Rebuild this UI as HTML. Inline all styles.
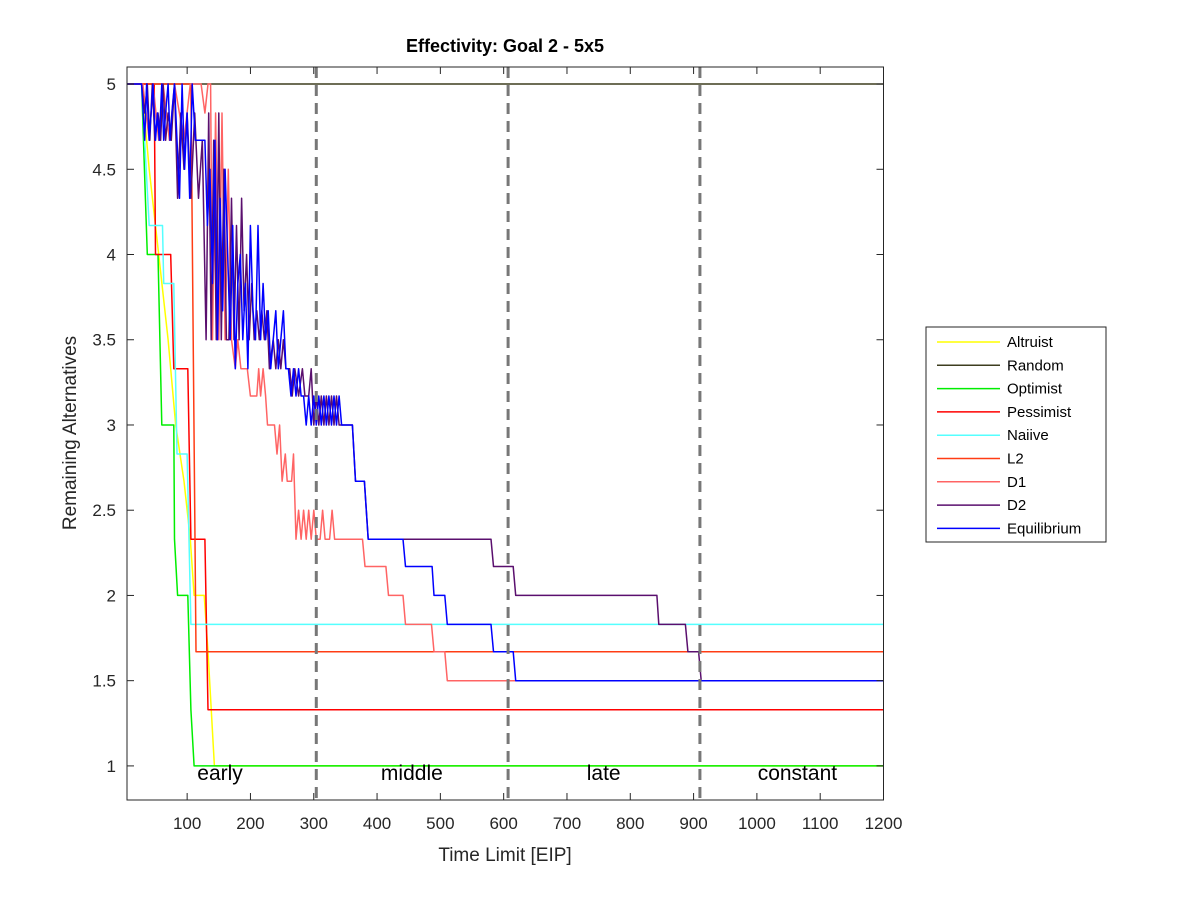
<!DOCTYPE html>
<html><head><meta charset="utf-8"><style>
body{margin:0;background:#fff;}
svg{display:block;font-family:"Liberation Sans",Arial,sans-serif;}
</style></head><body>
<svg id="chart" width="1200" height="900" viewBox="0 0 1200 900">
<rect width="1200" height="900" fill="#fff"/>
<defs><clipPath id="pc"><rect x="127" y="67" width="757" height="734"/></clipPath></defs>
<g id="series" clip-path="url(#pc)"></g>
<g id="axes"></g>
</svg>
<script>
const xTicks=[100,200,300,400,500,600,700,800,900,1000,1100,1200];
const yTicks=[1,1.5,2,2.5,3,3.5,4,4.5,5];
const phaseBounds=[304,607,910];
const phaseLabels=["early","middle","late","constant"];
const phaseCenters=[152,455,758,1064];
const seriesNames=["Altruist","Random","Optimist","Pessimist","Naiive","L2","D1","D2","Equilibrium"];
const seriesColors=["#ffff00","#3d3d1f","#00ee00","#ff0000","#55ffff","#ff3c14","#ff6464","#5a0f6e","#0000ff"];
const altruist=[[0,5],[28,5],[40,4.5],[55,4],[70,3.5],[82,3],[95,2.67],[105,2.33],[111,2],[127,2],[133,1.67],[143,1],[1200,1]];
const random=[[0,5],[1200,5]];
const optimist=[[0,5],[28,5],[34,4.33],[37,4],[54,4],[60,3],[79,3],[80,2.33],[85,2],[101,2],[106,1.33],[111,1],[1200,1]];
const pessimist=[[0,5],[48,5],[50,4],[74,4],[79,3.33],[101,3.33],[106,2.33],[128,2.33],[133,1.33],[1200,1.33]];
const naiive=[[0,5],[28,5],[40,4.17],[61,4.17],[63,3.83],[79,3.83],[84,2.83],[100,2.83],[106,1.83],[1200,1.83]];
const l2=[[0,5],[106,5],[114,1.67],[1200,1.67]];
const d1=[[0,5],[30,5],[40,4.67],[46,5],[55,4.67],[62,5],[72,4.67],[80,5],[95,4.67],[105,5],[122,5],[128,4.83],[133,5],[137,5],[140,3.5],[145,4.83],[150,3.5],[155,4.83],[160,3.5],[165,4.5],[170,3.5],[176,3.33],[180,3.5],[185,3.33],[195,3.33],[200,3.17],[210,3.17],[213,3.33],[216,3.17],[220,3.33],[224,3.17],[227,3],[238,3],[242,2.83],[246,3],[250,2.67],[255,2.83],[258,2.67],[265,2.67],[268,2.83],[272,2.33],[276,2.5],[280,2.33],[284,2.5],[288,2.33],[292,2.5],[296,2.33],[300,2.5],[304,2.33],[310,2.33],[314,2.5],[318,2.33],[325,2.33],[329,2.5],[333,2.33],[377,2.33],[381,2.17],[414,2.17],[418,2],[441,2],[445,1.83],[486,1.83],[490,1.67],[507,1.67],[511,1.5],[1200,1.5]];
const d2=[[0,5],[28,5],[33,4.83],[37,5],[41,4.67],[45,5],[49,4.67],[54,4.83],[58,4.67],[62,5],[66,4.67],[70,4.83],[75,4.67],[80,5],[85,4.33],[90,4.83],[95,4.5],[100,4.83],[106,4.33],[112,4.83],[118,4.33],[124,4.67],[130,3.5],[134,4.83],[138,3.5],[142,4.67],[146,3.5],[150,4.83],[154,3.5],[158,4.5],[162,3.5],[166,3.5],[170,4.33],[174,3.5],[178,4.17],[182,3.5],[186,4.33],[190,3.67],[194,4],[198,3.5],[202,3.83],[206,3.5],[210,3.67],[214,3.5],[218,3.67],[222,3.5],[226,3.67],[230,3.33],[236,3.5],[240,3.33],[244,3.5],[248,3.33],[252,3.5],[256,3.33],[262,3.33],[266,3.17],[270,3.33],[276,3.17],[282,3.33],[286,3.17],[292,3.17],[296,3.33],[300,3],[304,3.17],[308,3],[312,3.17],[316,3],[320,3.17],[324,3],[328,3.17],[332,3],[336,3.17],[340,3],[361,3],[366,2.67],[380,2.67],[386,2.33],[580,2.33],[584,2.17],[615,2.17],[619,2],[842,2],[845,1.83],[887,1.83],[891,1.67],[908,1.67],[912,1.5],[1200,1.5]];
const equilibrium=[[0,5],[28,5],[33,4.67],[36,5],[40,4.67],[43,4.83],[46,5],[50,4.67],[53,4.83],[56,4.67],[60,5],[63,4.67],[66,4.83],[70,5],[73,4.67],[76,4.83],[80,5],[84,4.67],[88,4.33],[92,5],[96,4.5],[100,4.83],[104,4.33],[108,5],[113,4.67],[128,4.67],[132,4.17],[136,4.5],[140,3.83],[144,4.67],[148,3.5],[152,4.33],[156,3.67],[160,4.5],[164,4],[168,3.5],[172,4.17],[176,3.33],[180,3.83],[184,4],[188,3.5],[192,3.83],[196,3.33],[200,4.17],[204,3.67],[208,3.5],[212,4.17],[216,3.5],[220,3.83],[224,3.5],[228,3.67],[232,3.33],[236,3.5],[240,3.67],[244,3.33],[248,3.5],[252,3.67],[256,3.33],[260,3.33],[264,3.17],[268,3.33],[272,3.17],[276,3.33],[280,3.17],[284,3.17],[288,3],[292,3.17],[296,3],[300,3.17],[304,3],[308,3.17],[312,3],[316,3.17],[320,3],[324,3.17],[328,3],[332,3.17],[336,3],[340,3.17],[344,3],[361,3],[366,2.67],[380,2.67],[386,2.33],[441,2.33],[445,2.17],[487,2.17],[490,2],[507,2],[511,1.83],[580,1.83],[584,1.67],[615,1.67],[619,1.5],[1200,1.5]];
const allSeries=[altruist,random,optimist,pessimist,naiive,l2,d1,d2,equilibrium];

const NS="http://www.w3.org/2000/svg";
const L=127,R=883.5,T=67,B=800,XMIN=5,XMAX=1200,YMIN=0.8,YMAX=5.1;
function sx(v){return L+(v-XMIN)/(XMAX-XMIN)*(R-L);}
function sy(v){return B-(v-YMIN)/(YMAX-YMIN)*(B-T);}
function mk(tag,attrs,parent){const e=document.createElementNS(NS,tag);for(const k in attrs)e.setAttribute(k,attrs[k]);parent.appendChild(e);return e;}
const svg=document.getElementById('chart');
const gS=document.getElementById('series');
const gA=document.getElementById('axes');

allSeries.forEach((s,i)=>{
  const p=mk('polyline',{points:s.map(d=>sx(d[0]).toFixed(1)+','+sy(d[1]).toFixed(1)).join(' '),fill:'none',stroke:seriesColors[i],'stroke-width':1.5,'stroke-linejoin':'round'},gS);
  
  
});
phaseBounds.forEach((b,i)=>{
  const l=mk('line',{x1:sx(b),x2:sx(b),y1:T,y2:B,stroke:'#777','stroke-width':3,'stroke-dasharray':'11,7'},gS);
  
  
});
phaseLabels.forEach((t,i)=>{
  const tx=mk('text',{x:sx(phaseCenters[i]),y:780,'text-anchor':'middle','font-size':21,fill:'#000'},gS);
  tx.textContent=t;
  
  
});

const box=mk('rect',{x:L,y:T,width:R-L,height:B-T,fill:'none',stroke:'#262626','stroke-width':1},gA);


xTicks.forEach(v=>{
  const x=sx(v);
  mk('line',{x1:x,x2:x,y1:B,y2:B-7,stroke:'#262626'},gA);
  mk('line',{x1:x,x2:x,y1:T,y2:T+7,stroke:'#262626'},gA);
  const t=mk('text',{x:x,y:829,'text-anchor':'middle','font-size':17,fill:'#262626'},gA);
  t.textContent=v;
  
  
});
yTicks.forEach(v=>{
  const y=sy(v);
  mk('line',{x1:L,x2:L+7,y1:y,y2:y,stroke:'#262626'},gA);
  mk('line',{x1:R,x2:R-7,y1:y,y2:y,stroke:'#262626'},gA);
  const t=mk('text',{x:116,y:y+6,'text-anchor':'end','font-size':17,fill:'#262626'},gA);
  t.textContent=v;
  
  
});
const title=mk('text',{x:505,y:52,'text-anchor':'middle','font-size':18,'font-weight':'bold',fill:'#000'},gA);
title.textContent='Effectivity: Goal 2 - 5x5';


const xl=mk('text',{x:505,y:861,'text-anchor':'middle','font-size':19,fill:'#262626'},gA);
xl.textContent='Time Limit [EIP]';


const yl=mk('text',{x:0,y:0,'text-anchor':'middle','font-size':19,fill:'#262626',transform:'translate(76,433) rotate(-90)'},gA);
yl.textContent='Remaining Alternatives';



const lg=mk('g',{},svg);


mk('rect',{x:926,y:327,width:180,height:215,fill:'#fff',stroke:'#262626','stroke-width':1},lg);
seriesNames.forEach((n,i)=>{
  const y=342+i*23.3;
  const e=mk('g',{},lg);
  
  
  mk('line',{x1:937,x2:1000,y1:y,y2:y,stroke:seriesColors[i],'stroke-width':1.5},e);
  const t=mk('text',{x:1007,y:y+5,'font-size':15,fill:'#000'},e);
  t.textContent=n;
});
</script>
</body></html>
